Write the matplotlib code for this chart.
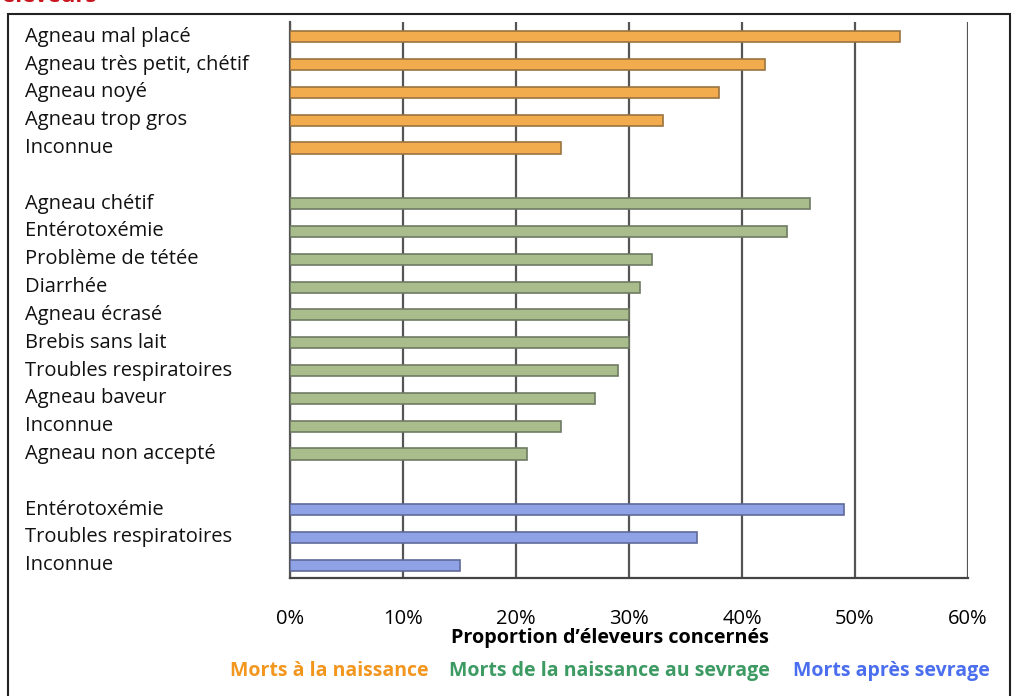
import matplotlib
matplotlib.use("Agg")
import matplotlib.pyplot as plt
import matplotlib.transforms as mtransforms
from matplotlib.patches import Rectangle

plt.rcParams['font.family'] = ['Open Sans', 'DejaVu Sans']

# data (percent of farmers concerned)
naissance_labels = ["Agneau mal placé", "Agneau très petit, chétif", "Agneau noyé",
                    "Agneau trop gros", "Inconnue"]
naissance_values = [54, 42, 38, 33, 24]

sevrage_labels = ["Agneau chétif", "Entérotoxémie", "Problème de tétée", "Diarrhée",
                  "Agneau écrasé", "Brebis sans lait", "Troubles respiratoires",
                  "Agneau baveur", "Inconnue", "Agneau non accepté"]
sevrage_values = [46, 44, 32, 31, 30, 30, 29, 27, 24, 21]

apres_labels = ["Entérotoxémie", "Troubles respiratoires", "Inconnue"]
apres_values = [49, 36, 15]

xticks = [0, 10, 20, 30, 40, 50, 60]

groups = [
    (naissance_labels, naissance_values, "#F2AC4E", "#9A7440"),
    (sevrage_labels, sevrage_values, "#A9BC8C", "#6E7A62"),
    (apres_labels, apres_values, "#8FA2E6", "#5F6A9A"),
]

fig = plt.figure(figsize=(10.17, 6.96), dpi=100)
ax = fig.add_axes([290 / 1017, 1 - 578 / 696, 678 / 1017, 556 / 696])

label_tf = mtransforms.blended_transform_factory(fig.transFigure, ax.transData)

pos = 0
for labels, values, face, edge in groups:
    ys = list(range(pos, pos + len(values)))
    ax.barh(ys, values, height=0.4, color=face, edgecolor=edge, linewidth=1.2, zorder=3)
    for y, lab in zip(ys, labels):
        ax.text(25 / 1017, y, lab, transform=label_tf, ha='left', va='center',
                fontsize=14.5, color='#111111')
    pos += len(values) + 1

ax.set_ylim(pos - 1 - 0.54, -0.53)
ax.set_xlim(0, 60)
ax.set_yticks([])
ax.set_xticks(xticks)
ax.set_xticklabels([f"{t}%" for t in xticks], fontsize=14.5)
ax.tick_params(axis='x', length=0, pad=22)
ax.grid(axis='x', color='#555555', linewidth=1.6, zorder=0)
for s in ['top', 'right']:
    ax.spines[s].set_visible(False)
ax.spines['left'].set_color('#555555')
ax.spines['bottom'].set_color('#444444')
ax.spines['left'].set_linewidth(1.6)
ax.spines['bottom'].set_linewidth(1.6)

fig.text(610 / 1017, 1 - 638 / 696, "Proportion d\u2019éleveurs concernés", ha='center',
         va='center', fontsize=14.2, fontweight='bold')

fig.text(329 / 1017, 1 - 671 / 696, "Morts à la naissance", ha='center', va='center',
         fontsize=14, fontweight='bold', color='#F3961E')
fig.text(609 / 1017, 1 - 671 / 696, "Morts de la naissance au sevrage", ha='center',
         va='center', fontsize=14, fontweight='bold', color='#3C9A62')
fig.text(891 / 1017, 1 - 671 / 696, "Morts après sevrage", ha='center', va='center',
         fontsize=14, fontweight='bold', color='#4B6EEE')

# frame around the chart
fig.patches.append(Rectangle((8 / 1017, -0.05), 1002 / 1017, 1.05 - 14 / 696,
                             transform=fig.transFigure, fill=False,
                             edgecolor='#222222', linewidth=1.5))
# cut-off title at the top
fig.text(2 / 1017, 1 + 4 / 696, "éleveurs", ha='left', va='center', fontsize=16,
         fontweight='bold', color='#C8161E')

fig.savefig("out.png", dpi=100)
